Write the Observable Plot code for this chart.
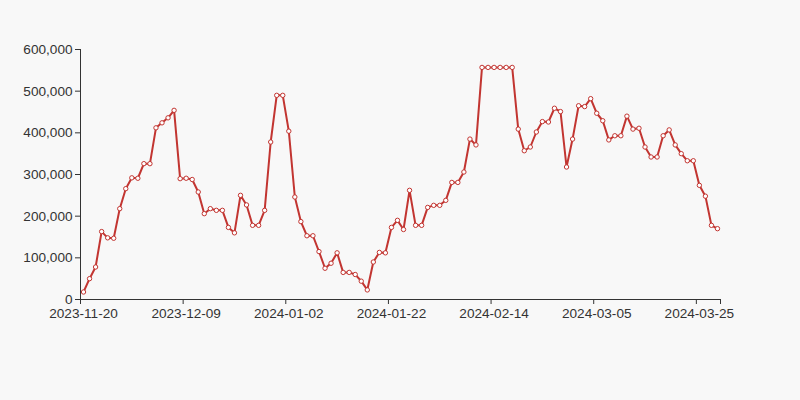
<!DOCTYPE html>
<html>
<head>
<meta charset="utf-8">
<script src="https://cdn.jsdelivr.net/npm/d3@7"></script>
<script src="https://cdn.jsdelivr.net/npm/@observablehq/plot@0.6"></script>
<style>
  html, body { margin: 0; padding: 0; background: #f8f8f8; }
  #chart { width: 800px; height: 400px; }
</style>
</head>
<body>
<div id="chart"></div>
<script>
const dates = [
  "2023-11-20","2023-11-21","2023-11-22","2023-11-23","2023-11-24","2023-11-25","2023-11-27","2023-11-28","2023-11-29","2023-11-30",
  "2023-12-01","2023-12-02","2023-12-04","2023-12-05","2023-12-06","2023-12-07","2023-12-08","2023-12-09","2023-12-11","2023-12-12",
  "2023-12-13","2023-12-14","2023-12-15","2023-12-18","2023-12-19","2023-12-20","2023-12-21","2023-12-22","2023-12-25","2023-12-26",
  "2023-12-27","2023-12-28","2023-12-29","2023-12-30","2024-01-02","2024-01-03","2024-01-04","2024-01-05","2024-01-06","2024-01-08",
  "2024-01-09","2024-01-10","2024-01-11","2024-01-12","2024-01-13","2024-01-15","2024-01-16","2024-01-17","2024-01-18","2024-01-19",
  "2024-01-20","2024-01-22","2024-01-23","2024-01-24","2024-01-25","2024-01-26","2024-01-27","2024-01-29","2024-01-30","2024-01-31",
  "2024-02-01","2024-02-02","2024-02-03","2024-02-05","2024-02-06","2024-02-07","2024-02-08","2024-02-09","2024-02-14","2024-02-15",
  "2024-02-16","2024-02-17","2024-02-19","2024-02-20","2024-02-21","2024-02-22","2024-02-23","2024-02-24","2024-02-26","2024-02-27",
  "2024-02-28","2024-02-29","2024-03-01","2024-03-02","2024-03-04","2024-03-05","2024-03-06","2024-03-07","2024-03-08","2024-03-09",
  "2024-03-11","2024-03-12","2024-03-13","2024-03-14","2024-03-15","2024-03-16","2024-03-18","2024-03-19","2024-03-20","2024-03-21",
  "2024-03-22","2024-03-23","2024-03-25","2024-03-26","2024-03-27","2024-03-28"
];

const values = [
  18000, 50000, 78000, 163000, 148000, 147000, 218000, 266000, 292000, 291000,
  326000, 326000, 412000, 424000, 436000, 454000, 290000, 291000, 288000, 258000,
  206000, 218000, 214000, 214000, 173000, 160000, 250000, 227000, 178000, 178000,
  214000, 378000, 490000, 490000, 404000, 246000, 187000, 153000, 153000, 115000,
  75000, 87000, 112000, 65000, 65000, 60000, 44000, 23000, 90000, 113000,
  112000, 173000, 190000, 168000, 262000, 178000, 178000, 221000, 226000, 226000,
  238000, 281000, 281000, 306000, 385000, 371000, 557000, 557000, 557000, 557000,
  557000, 557000, 409000, 357000, 366000, 402000, 427000, 426000, 459000, 451000,
  318000, 385000, 465000, 463000, 482000, 447000, 429000, 383000, 393000, 393000,
  440000, 409000, 411000, 366000, 342000, 342000, 393000, 407000, 371000, 350000,
  333000, 333000, 274000, 248000, 178000, 170000
];

const yTicks = [0, 100000, 200000, 300000, 400000, 500000, 600000];
const labelInterval = 17;

const labelIdx = d3.range(0, dates.length, labelInterval);
const tickBounds = labelIdx.concat([dates.length]);
const lineColor = "#c23531";

const chart = Plot.plot({
  width: 800,
  height: 400,
  marginLeft: 80,
  marginRight: 80,
  marginTop: 49,
  marginBottom: 101,
  style: {
    background: "#f8f8f8",
    fontFamily: "'Liberation Sans', Arial, sans-serif",
    fontSize: "13.6px",
    color: "#333"
  },
  x: { type: "linear", domain: [0, dates.length] },
  y: { domain: [0, 600000] },
  marks: [
    Plot.axisY(yTicks, { tickSize: 5, tickPadding: 3, tickFormat: d3.format(","), stroke: "#333", label: null }),
    Plot.axisX(tickBounds, { tickSize: 5, tickFormat: () => "", stroke: "#333", label: null }),
    Plot.axisX(labelIdx.map(i => i + 0.5), { tickSize: 0, tickPadding: 9, tickFormat: v => dates[Math.round(v - 0.5)], label: null }),
    Plot.ruleX([0], { stroke: "#333" }),
    Plot.ruleY([0], { stroke: "#333" }),
    Plot.line(values, { x: (d, i) => i + 0.5, y: d => d, stroke: lineColor, strokeWidth: 2 }),
    Plot.dot(values, { x: (d, i) => i + 0.5, y: d => d, r: 2.2, fill: "white", stroke: lineColor, strokeWidth: 1 })
  ]
});

document.getElementById("chart").appendChild(chart);
</script>
</body>
</html>
